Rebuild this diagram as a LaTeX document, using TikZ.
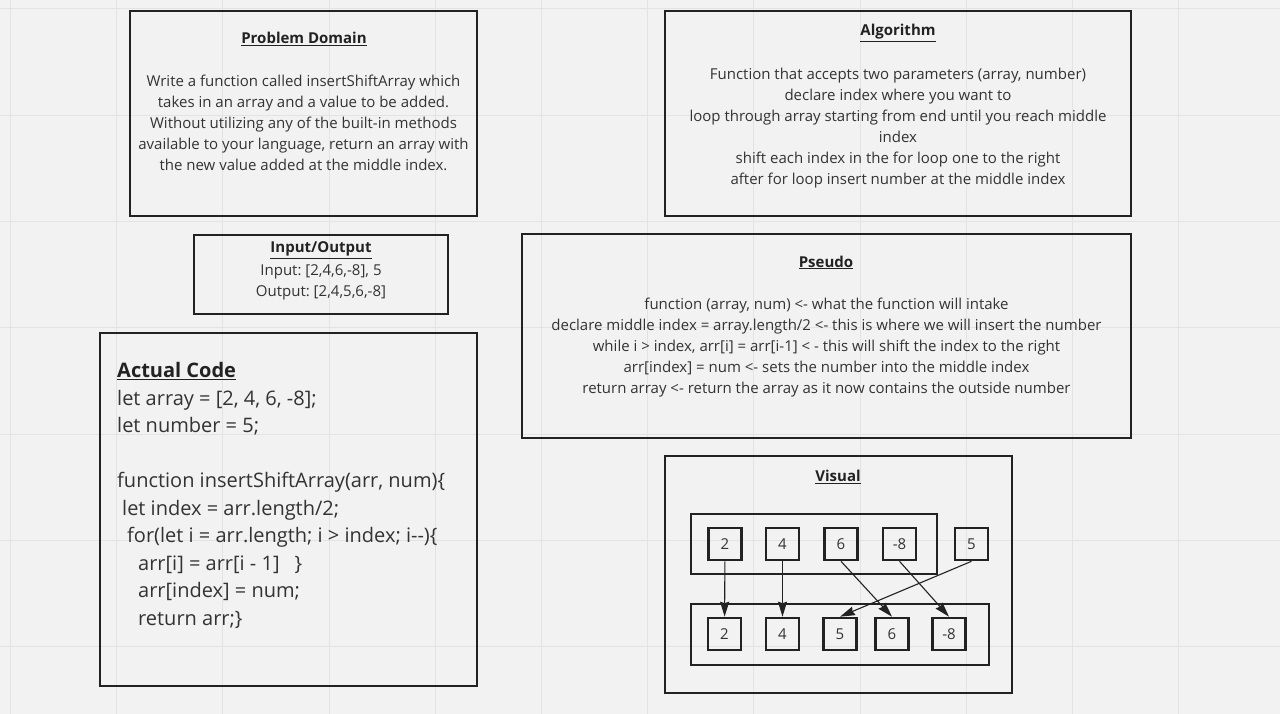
\documentclass[tikz,border=0pt]{standalone}
\usepackage{fontspec}
\setmainfont{Open Sans}
\usetikzlibrary{arrows.meta}
\definecolor{paper}{HTML}{F2F2F2}
\definecolor{gridline}{HTML}{E3E3E3}
\definecolor{ink}{HTML}{222222}
\definecolor{txt}{HTML}{333333}
\frenchspacing

\tikzset{
 frame/.style={draw=ink,line width=2.2pt,inner sep=0pt},
 body/.style={text=txt,align=center,inner sep=0pt,font=\fontsize{15}{21}\selectfont},
 head/.style={text=ink,anchor=base,inner sep=0pt,font=\fontsize{15}{18}\selectfont\bfseries},
 cell/.style={draw=ink,line width=2.6pt,minimum width=33pt,minimum height=32pt,inner sep=0pt,text=txt,font=\fontsize{15}{18}\selectfont},
 group/.style={draw=ink,line width=2pt,inner sep=0pt},
 move/.style={draw=ink,line width=1.1pt,-{Stealth[length=15pt,width=9pt,inset=1.5pt]}}
}

\begin{document}
\begin{tikzpicture}[x=1pt,y=-1pt]
 \useasboundingbox[fill=paper] (0,0) rectangle (1280,714);
 % background grid
 \foreach \gx in {0,...,11}
   \draw[gridline,line width=1pt] ({10.5+106.2*\gx},0) -- ({10.5+106.2*\gx},714);
 \foreach \gy in {0,...,6}
   \draw[gridline,line width=1pt] (0,{9+106.3*\gy}) -- (1280,{9+106.3*\gy});

 % problem domain
 \node[frame,minimum width=347pt,minimum height=205pt] (pdbox) at (303.5,113.5) {};
 \node[head] (pdhead) at (304,43.5) {\underline{Problem Domain}};
 \node[body] (pdtext) at (303.5,123) {Write a function called insertShiftArray which\\takes in an array and a value to be added.\\Without utilizing any of the built-in methods\\available to your language, return an array with\\the new value added at the middle index.};

 % algorithm
 \node[frame,minimum width=466pt,minimum height=205pt] (algbox) at (898,113.5) {};
 \node[head] (alghead) at (898,36) {\underline{Algorithm}};
 \node[body] (algtext) at (898,128.5) {Function that accepts two parameters (array, number)\\declare index where you want to\\loop through array starting from end until you reach middle\\index\\shift each index in the for loop one to the right\\after for loop insert number at the middle index};

 % input / output
 \node[frame,minimum width=254pt,minimum height=79pt] (iobox) at (321,274.5) {};
 \node[head] (iohead) at (321,253) {\underline{Input/Output}};
 \node[body] (iotext) at (321,282.5) {Input: [2,4,6,-8], 5\\Output: [2,4,5,6,-8]};

 % pseudo
 \node[frame,minimum width=609pt,minimum height=204pt] (psbox) at (826.5,336) {};
 \node[head] (pshead) at (826,267) {\underline{Pseudo}};
 \node[body] (pstext) at (826.5,348) {function (array, num) <- what the function will intake\\declare middle index = array.length/2 <- this is where we will insert the number\\while i > index, arr[i] = arr[i-1] < - this will shift the index to the right\\arr[index] = num <- sets the number into the middle index\\return array <- return the array as it now contains the outside number};

 % actual code
 \node[frame,minimum width=377pt,minimum height=353pt] (codebox) at (288.5,509.5) {};
 \node[text=txt,align=left,anchor=west,inner sep=0pt,font=\fontsize{20}{27.5}\selectfont] (codetext) at (117,495.5) {{\color{ink}\bfseries\underline{Actual Code}}\\let array = [2, 4, 6, -8];\\let number = 5;\\\mbox{}\\function insertShiftArray(arr, num)\{\\\hspace{5pt}let index = arr.length/2;\\\hspace{10pt}for(let i = arr.length; i > index; i-{}-)\{\\\hspace{21pt}arr[i] = arr[i - 1]\hspace{15pt}\}\\\hspace{21pt}arr[index] = num;\\\hspace{21pt}return arr;\}};

 % visual
 \node[frame,minimum width=347pt,minimum height=237pt] (visbox) at (838.5,574.5) {};
 \node[head] (vishead) at (838,481.5) {\underline{Visual}};
 \node[group,minimum width=246pt,minimum height=60pt] (topgroup) at (814,544) {};
 \node[group,minimum width=298pt,minimum height=61pt] (botgroup) at (840,634.5) {};
 \node[cell] (t2) at (725,544) {2};
 \node[cell] (t4) at (782.5,544) {4};
 \node[cell] (t6) at (841,544) {6};
 \node[cell] (t8) at (899.5,544) {-8};
 \node[cell] (t5) at (971.5,544) {5};
 \node[cell] (b2) at (724.5,634) {2};
 \node[cell] (b4) at (782.5,634) {4};
 \node[cell] (b5) at (840,634) {5};
 \node[cell] (b6) at (892,634) {6};
 \node[cell] (b8) at (949,634) {-8};
 \draw[move] (t2) -- (b2);
 \draw[move] (t4) -- (b4);
 \draw[move] (t6.south) -- (b6.north);
 \draw[move] (t8.south) -- (b8.north);
 \draw[move] (t5.south) -- (b5.north);
\end{tikzpicture}
\end{document}
